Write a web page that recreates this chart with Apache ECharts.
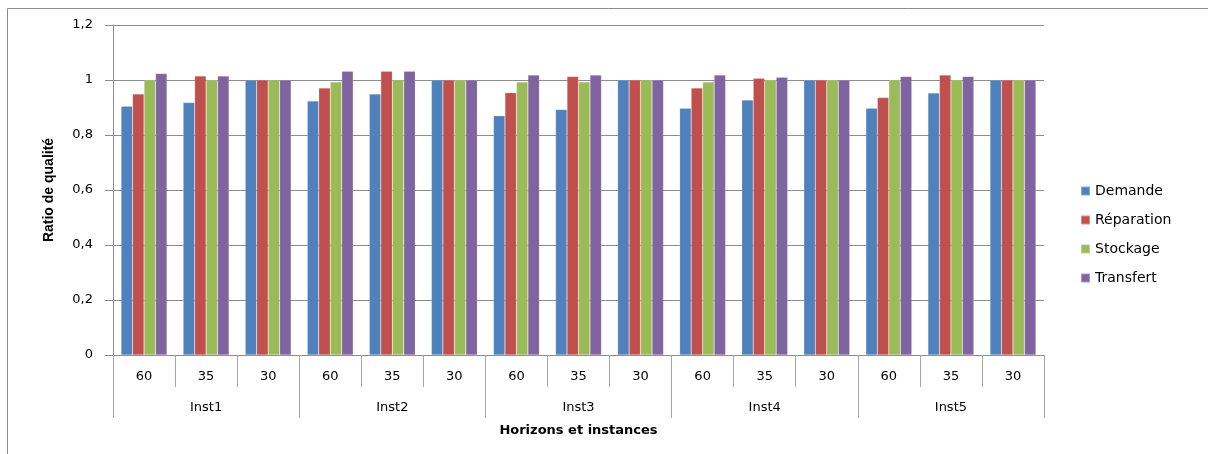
<!DOCTYPE html>
<html>
<head>
<meta charset="utf-8">
<script src="https://cdn.jsdelivr.net/npm/echarts@6/dist/echarts.min.js"></script>
<style>
  html, body { margin: 0; padding: 0; background: #fff; }
  #chart { width: 1208px; height: 454px; }
</style>
</head>
<body>
<div id="chart"></div>
<script>
// horizons (inner labels) and instances (outer labels)
const horizons = ['60', '35', '30', '60', '35', '30', '60', '35', '30', '60', '35', '30', '60', '35', '30']
const instances = ['Inst1', 'Inst2', 'Inst3', 'Inst4', 'Inst5']
const yTicks = [0, 0.2, 0.4, 0.6, 0.8, 1, 1.2]

// ratio de qualité
const demande = [0.905, 0.918, 1, 0.924, 0.949, 1, 0.870, 0.893, 1, 0.897, 0.927, 1, 0.897, 0.953, 1]
const reparation = [0.949, 1.015, 1, 0.971, 1.032, 1, 0.954, 1.013, 1, 0.971, 1.006, 1, 0.936, 1.018, 1]
const stockage = [1, 1, 1, 0.993, 1, 1, 0.993, 0.993, 1, 0.993, 1, 1, 1, 1, 1]
const transfert = [1.024, 1.015, 1, 1.032, 1.032, 1, 1.018, 1.018, 1, 1.018, 1.010, 1, 1.013, 1.013, 1]

const names = ['Demande', 'Réparation', 'Stockage', 'Transfert']
const colors = ['#4F81BD', '#C0504D', '#9BBB59', '#8064A2']
const values = [demande, reparation, stockage, transfert]

const myChart = echarts.init(document.getElementById('chart'))
const labelFont = 'DejaVu Sans, Verdana, sans-serif'

const options = {
  animation: false,
  color: colors,
  grid: { left: 113, right: 164, top: 25, bottom: 99 },
  graphic: [
    {
      type: 'rect',
      shape: { x: 7.5, y: 8.5, width: 1300, height: 500 },
      style: { fill: 'none', stroke: '#8c8c8c', lineWidth: 1 },
      silent: true
    }
  ],
  legend: {
    orient: 'vertical',
    left: 1080,
    top: 184,
    padding: 0,
    itemWidth: 9,
    itemHeight: 9,
    itemGap: 15,
    icon: 'rect',
    textStyle: { fontFamily: labelFont, fontSize: 14, color: '#000' },
    data: names
  },
  xAxis: [
    {
      type: 'category',
      data: horizons,
      position: 'bottom',
      name: 'Horizons et instances',
      nameLocation: 'middle',
      nameGap: 69,
      nameTextStyle: { fontFamily: labelFont, fontWeight: 'bold', fontSize: 13, color: '#000' },
      axisLine: { show: true, lineStyle: { color: '#8c8c8c' } },
      axisTick: { show: true, length: 32, interval: 0, lineStyle: { color: '#a6a6a6' } },
      axisLabel: { interval: 0, margin: 15, fontFamily: labelFont, fontSize: 13, color: '#000' }
    },
    {
      type: 'category',
      data: instances,
      position: 'bottom',
      axisLine: { show: false },
      axisTick: { show: true, length: 63, interval: 0, lineStyle: { color: '#a6a6a6' } },
      axisLabel: { interval: 0, margin: 46, fontFamily: labelFont, fontSize: 13, color: '#000' }
    }
  ],
  yAxis: {
    type: 'value',
    min: yTicks[0],
    max: yTicks[yTicks.length - 1],
    interval: 0.2,
    name: 'Ratio de qualité',
    nameLocation: 'middle',
    nameGap: 57,
    nameTextStyle: { fontFamily: 'Liberation Sans Narrow, Liberation Sans, Arial, sans-serif', fontWeight: 'bold', fontSize: 14, color: '#000' },
    axisLine: { show: true, lineStyle: { color: '#8c8c8c' } },
    axisTick: { show: true, length: 8, lineStyle: { color: '#8c8c8c' } },
    axisLabel: {
      margin: 20,
      fontFamily: labelFont,
      fontSize: 13,
      color: '#000',
      formatter: (v) => String(Math.round(v * 10) / 10).replace('.', ',')
    },
    splitLine: { show: true, lineStyle: { color: '#8c8c8c' } }
  },
  series: names.map((n, i) => ({
    name: n,
    type: 'bar',
    xAxisIndex: 0,
    data: values[i],
    barGap: 0,
    barCategoryGap: '26%',
    itemStyle: { color: colors[i], borderColor: 'rgba(255,255,255,0.35)', borderWidth: 0.5 }
  }))
}

myChart.setOption(options)
</script>
</body>
</html>
